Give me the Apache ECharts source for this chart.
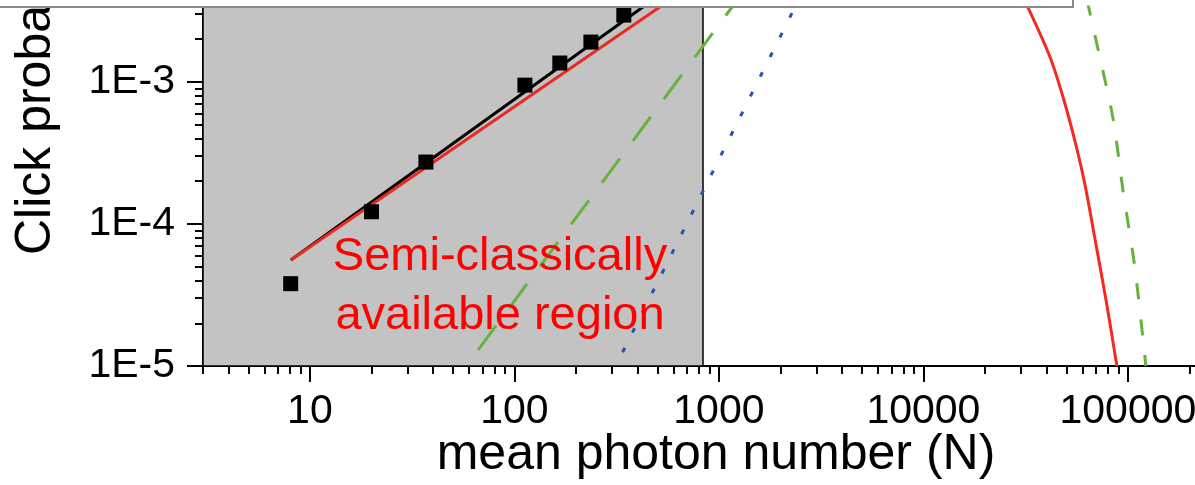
<!DOCTYPE html>
<html>
<head>
<meta charset="utf-8">
<script src="https://cdn.jsdelivr.net/npm/echarts@6.0.0/dist/echarts.min.js"></script>
<style>
  html, body { margin: 0; padding: 0; background: #fff; }
  #chart { width: 1195px; height: 485px; }
</style>
</head>
<body>
<div id="chart"></div>
<script>
// measured click probabilities (black squares)
const measuredN = [8.05, 20.0, 36.9, 112.5, 166.7, 236.6, 342.7];
const measuredP = [3.8e-5, 1.22e-4, 2.73e-4, 9.5e-4, 1.36e-3, 1.91e-3, 2.96e-3];

// linear fits through the squares (black and red)
const blackFitN = [8.07, 425];
const blackFitP = [5.57e-5, 3.37e-3];
const redFitN = [8.07, 514];
const redFitP = [5.57e-5, 3.37e-3];

// rising curves
const greenUpN = [66.5, 1159];
const greenUpP = [1.30e-5, 3.37e-3];
const blueUpN = [338, 2355];
const blueUpP = [1.25e-5, 3.37e-3];

// falling curves on the right
const redDownN = [32400, 41600, 48600, 55700, 61700, 69900, 78900, 88300];
const redDownP = [3.37e-3, 1.50e-3, 7.5e-4, 3.6e-4, 1.88e-4, 7.1e-5, 2.7e-5, 1.0e-5];
const greenDownN = [63100, 72100, 84500, 94600, 108200, 122400];
const greenDownP = [3.78e-3, 1.60e-3, 5.57e-4, 1.73e-4, 4.9e-5, 1.0e-5];

// semi-classical region upper bound
const regionN = [3, 836];

// axes
const xMin = 3, xMax = 1e6;
const yMin = 1e-5, yMax = 3.373e-3;
const xMajorTicks = [10, 100, 1000, 10000, 100000];
const yMajorTicks = [1e-5, 1e-4, 1e-3];

function minorTicks(decades) {
  const out = [];
  decades.forEach(d => { for (let k = 2; k <= 9; k++) out.push(k * d); });
  return out;
}
const xMinorTicks = minorTicks([1, 10, 100, 1000, 10000, 100000]);
const yMinorTicks = minorTicks([1e-5, 1e-4, 1e-3]);

const pairs = (xs, ys) => xs.map((x, i) => [x, ys[i]]);

const FONT = "'Liberation Sans', Arial, sans-serif";
const gridLeft = 203, gridTop = 7, gridBottom = 119;
const gridRight = -137.4;
const gridWidth = 1195 - gridLeft - gridRight;
const gridHeight = 485 - gridTop - gridBottom;

const tickLine = { color: '#000', width: 2 };

let myChart = echarts.init(document.getElementById('chart'));
myChart.setOption({
  animation: false,
  backgroundColor: '#fff',
  grid: {
    left: gridLeft, right: gridRight, top: gridTop, bottom: gridBottom,
    containLabel: false, outerBoundsMode: 'none'
  },
  xAxis: [
    {
      type: 'log', min: xMin, max: xMax, position: 'bottom',
      axisLine: { show: true, onZero: false, lineStyle: tickLine },
      axisTick: { show: true, customValues: xMajorTicks, length: 16, lineStyle: tickLine },
      axisLabel: {
        customValues: xMajorTicks, margin: 25, color: '#000', fontSize: 41, fontFamily: FONT,
        formatter: v => String(Math.round(v))
      },
      splitLine: { show: false }
    },
    {
      // minor ticks, moved down onto the bottom edge
      type: 'log', min: xMin, max: xMax, position: 'top', offset: -gridHeight,
      axisLine: { show: false },
      axisTick: { show: true, inside: true, customValues: xMinorTicks, length: 8, lineStyle: tickLine },
      axisLabel: { show: false },
      splitLine: { show: false }
    }
  ],
  yAxis: [
    {
      type: 'log', min: yMin, max: yMax, position: 'left',
      axisLine: { show: true, onZero: false, lineStyle: tickLine },
      axisTick: { show: true, customValues: yMajorTicks, length: 16, lineStyle: tickLine },
      axisLabel: {
        customValues: yMajorTicks, margin: 28, color: '#000', fontSize: 41, fontFamily: FONT,
        formatter: v => '1E' + Math.round(Math.log10(v))
      },
      splitLine: { show: false }
    },
    {
      type: 'log', min: yMin, max: yMax, position: 'right', offset: -gridWidth,
      axisLine: { show: false },
      axisTick: { show: true, inside: true, customValues: yMinorTicks, length: 8, lineStyle: tickLine },
      axisLabel: { show: false },
      splitLine: { show: false }
    }
  ],
  series: [
    {
      name: 'measured',
      type: 'scatter',
      data: pairs(measuredN, measuredP),
      symbol: 'rect',
      symbolSize: 15,
      itemStyle: { color: '#000', opacity: 1 },
      z: 5,
      markArea: {
        silent: true,
        itemStyle: { color: '#c3c3c3', opacity: 1, borderColor: '#000', borderWidth: 1.5 },
        data: [[{ xAxis: regionN[0] }, { xAxis: regionN[1] }]]
      }
    },
    {
      name: 'fit black',
      type: 'line',
      data: pairs(blackFitN, blackFitP),
      symbol: 'none',
      lineStyle: { color: '#000', width: 3 },
      z: 3
    },
    {
      name: 'fit red',
      type: 'line',
      data: pairs(redFitN, redFitP),
      symbol: 'none',
      lineStyle: { color: '#ea2a22', width: 3 },
      z: 4
    },
    {
      name: 'green up',
      type: 'line',
      data: pairs(greenUpN, greenUpP),
      symbol: 'none',
      lineStyle: { color: '#62b43c', width: 3, type: [30, 22] },
      z: 3
    },
    {
      name: 'blue up',
      type: 'line',
      data: pairs(blueUpN, blueUpP),
      symbol: 'none',
      lineStyle: { color: '#2a52ac', width: 3, type: [5, 17] },
      z: 3
    },
    {
      name: 'red down',
      type: 'line',
      data: pairs(redDownN, redDownP),
      symbol: 'none',
      smooth: 0.3,
      lineStyle: { color: '#f42a22', width: 3 },
      z: 3
    },
    {
      name: 'green down',
      type: 'line',
      data: pairs(greenDownN, greenDownP),
      symbol: 'none',
      smooth: 0.3,
      lineStyle: { color: '#62b43c', width: 3, type: [16, 20] },
      z: 3
    }
  ],
  graphic: [
    {
      type: 'rect', z: 100,
      shape: { x: -10, y: -20, width: 1083, height: 27 },
      style: { fill: '#fff', stroke: '#8a8a8a', lineWidth: 2 }
    },
    {
      type: 'text', z: 50, x: 500, y: 286.5,
      style: {
        text: 'Semi-classically\navailable region',
        fill: '#ff0000', font: '47px ' + FONT, lineHeight: 59,
        align: 'center', verticalAlign: 'middle'
      }
    },
    {
      type: 'text', z: 50, x: 716, y: 455,
      style: {
        text: 'mean photon number (N)',
        fill: '#000', font: '50px ' + FONT,
        align: 'center', verticalAlign: 'middle'
      }
    },
    {
      type: 'text', z: 50, x: 36, y: 80, rotation: Math.PI / 2,
      style: {
        text: 'Click probability',
        fill: '#000', font: '50px ' + FONT,
        align: 'center', verticalAlign: 'middle'
      }
    }
  ]
});
</script>
</body>
</html>
